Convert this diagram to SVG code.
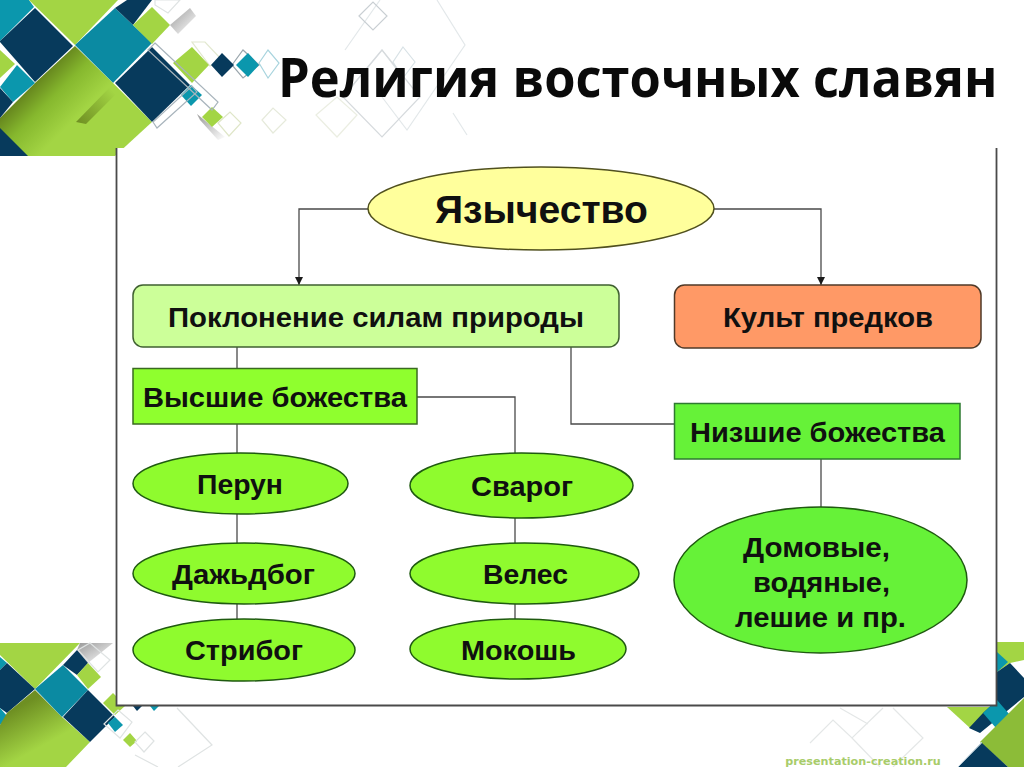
<svg xmlns="http://www.w3.org/2000/svg" width="1024" height="767" viewBox="0 0 1024 767">
<style>
.t{font-family:"Liberation Sans",Arial,sans-serif;font-weight:bold;fill:#101010;text-anchor:middle;font-size:27.500px}
.c{fill:none;stroke:#4a4a4a;stroke-width:1.300}
.o{fill:none;stroke-width:1.200}
.n{fill:#073a5c}.e{fill:#0b97ad}.l{fill:#a3d544}
.e1{fill:#8ffb2e;stroke:#1f5a10;stroke-width:1.500}
.e2{fill:#66f238;stroke:#1f5a10;stroke-width:1.500}
</style>
<defs>
<marker id="ah" markerWidth="9" markerHeight="9" refX="8" refY="4" orient="auto" markerUnits="userSpaceOnUse"><path d="M0 0L8 4L0 8Z" fill="#1a1a1a"/></marker>
<linearGradient id="sh" gradientUnits="userSpaceOnUse" x1="42" y1="72" x2="82" y2="112"><stop offset="0" stop-color="#62801c"/><stop offset=".45" stop-color="#86b82e"/><stop offset="1" stop-color="#a3d544"/></linearGradient>
<linearGradient id="sh2" gradientUnits="userSpaceOnUse" x1="40" y1="695" x2="62" y2="735"><stop offset="0" stop-color="#6e8f22"/><stop offset="1" stop-color="#a3d544"/></linearGradient>
<linearGradient id="fold" gradientUnits="userSpaceOnUse" x1="76" y1="122" x2="112" y2="90"><stop offset="0" stop-color="#6f8f22"/><stop offset="1" stop-color="#a3d544"/></linearGradient>
<linearGradient id="gs" x1="0" y1="0" x2="1" y2="1"><stop offset="0" stop-color="#9a9a9a"/><stop offset="1" stop-color="#fff"/></linearGradient>
</defs>
<rect width="1024" height="767" fill="#fff"/>
<g id="deco-top">
<g class="o" stroke="#e3e8ea">
<path d="M437 0L465 45L407 130L382 97M380 0L345 50M453 113L467 135M343 97L382 50L403 78"/>
<polygon points="403,47 415,62 403,78 393,62" stroke="#d8e2e6"/>
<polygon points="343,97 382,50 420,97 382,137" stroke="#d6dadd"/>
<polygon points="316,115 337,97 357,115 337,137" stroke="#ebeee2"/>
<polygon points="359,16 373,2 387,16 373,30" stroke="#c9cfd3"/>
<polygon points="262,120 273,108 286,120 273,133" stroke="#e6eadb"/>
<polygon points="218,123 230,112 241,123 229,136" stroke="#dfe6c8"/>
<polygon points="259,63 268,50 279,63 268,78" stroke="#a8d4de"/>
<polygon points="232,65 243,50 259,65 243,78" stroke="#9aa6ad"/>
<polygon points="155,0 180,0 168,13 155,5" stroke="#dfe3e3"/>
<polygon points="192,42 205,42 222,60 210,66" stroke="#e2e8cf"/>
</g>
<polygon fill="url(#gs)" points="190,8 170,25 178,34 196,16"/>
<polygon fill="url(#gs)" points="197,114 225,137 218,140 200,120"/>
<polygon class="e" points="0,0 29,0 34,7 0,41"/>
<polygon class="n" points="0,41 35,8 73,46 35,82 0,42"/>
<polygon class="l" points="29,0 118,0 75,45"/>
<polygon fill="#0b8aa2" points="75,45 115,8 152,43 113,83"/>
<polygon class="n" points="115,8 127,0 152,0 133,25"/>
<polygon class="l" points="133,25 152,7 170,25 152,44"/>
<polygon fill="url(#sh)" points="75,46 113,83 152,122 115,156 0,156 0,118 35,83"/>
<polygon fill="url(#fold)" points="113,84 76,122 86,124 116,94"/>
<polygon class="n" points="115,83 152,47 190,85 152,122"/>
<polygon class="n" points="0,128 28,156 0,156"/>
<polygon class="l" points="0,50 15,64 0,78"/>
<polygon class="e" points="0,87 17,65 35,83 13,102"/>
<polygon class="n" points="0,88 13,102 0,118"/>
<polygon class="l" points="173,63 192,47 209,65 192,83"/>
<polygon class="n" points="211,65 222,53 234,65 222,77"/>
<polygon class="e" points="236,65 248,53 259,65 248,77"/>
<polygon class="e" points="181,95 191,85 202,95 191,106"/>
<polygon class="l" points="202,117 212,107 223,117 212,127"/>
<g class="o" stroke="#a8b4bc">
<polygon points="155,43 218,102 212,110 148,50"/>
<polygon points="153,122 157,128 197,92 192,86"/>
</g>
</g>
<g id="deco-left">
<polygon fill="url(#gs)" points="80,643 113,643 88,663 77,650"/>
<polygon class="l" points="0,643 80,643 35,689 0,655"/>
<polygon class="e" points="0,657 7,663 0,670"/>
<polygon class="n" points="0,670 7,663 35,689 7,713 0,708"/>
<polygon class="e" points="0,708 8,717 0,725"/>
<polygon fill="url(#sh2)" points="35,690 62,717 90,742 66,767 0,767 0,725 7,713"/>
<polygon fill="#0b8aa2" points="35,689 63,665 88,690 62,717"/>
<polygon class="n" points="63,717 88,690 115,717 90,742"/>
<polygon class="n" points="63,665 77,650 88,663 77,675"/>
<polygon class="l" points="77,675 88,663 101,677 88,689"/>
<polygon class="l" points="103,703 113,693 116,696 125,706 115,715"/>
<polygon class="e" points="108,723 115,717 123,725 115,732"/>
<polygon class="l" points="123,740 130,733 137,741 130,747"/>
<polygon class="n" points="133,706 142,706 137,711"/>
<polygon class="e" points="150,706 159,706 154,711"/>
<g class="o" stroke="#dfe3e3">
<polygon points="90,643 110,660 98,672 78,650"/>
<polygon points="118,710 132,722 120,738 104,724"/>
<polygon points="145,732 154,741 144,752 135,742"/>
<path d="M177 708L212 745L178 767M135 755L158 767"/>
</g>
</g>
<g id="deco-right">
<polygon class="l" points="947,707 997,707 970,728"/>
<polygon class="l" points="997,642 1024,642 1024,660 1010,663 997,672"/>
<polygon class="e" points="997,652 1008,662 997,672"/>
<polygon class="n" points="997,672 1010,663 1024,678 1024,697 980,733 969,728 983,713 997,700"/>
<polygon class="e" points="983,713 997,700 1010,715 996,728"/>
<polygon fill="#8cbc38" points="980,742 1024,698 1024,767 1008,767"/>
<polygon class="n" points="982,743 1008,767 958,767"/>
<path d="M958 767L982 742" stroke="#b8ccd8" fill="none"/>
<g class="o" stroke="#e4e7e7">
<path d="M810 743L833 720L852 738L883 708M893 708L923 738L893 767M852 738L880 767M840 708L868 724"/>
</g>
</g>
<rect x="116" y="148" width="881" height="557" fill="#fff"/>
<path id="panel" d="M116.500 148V705.500H996.500V148" fill="none" stroke="#4a4a4a" stroke-width="1.800"/>
<text transform="translate(278 96.500) scale(.937 1)" font-size="54" font-weight="bold" fill="#0a0a0a" font-family="'Open Sans','Noto Sans',sans-serif">Религия восточных славян</text>
<text x="863" y="765" font-size="11.200" font-weight="bold" fill="#a8cc6a" text-anchor="middle" font-family="'DejaVu Sans',sans-serif">presentation-creation.ru</text>
<g id="connectors">
<path class="c" d="M369 209H299V285" marker-end="url(#ah)"/>
<path class="c" d="M712 209H821V285" marker-end="url(#ah)"/>
<path class="c" d="M237 347V368"/>
<path class="c" d="M571 347V424H674"/>
<path class="c" d="M417 397H515V453"/>
<path class="c" d="M237 424V453"/>
<path class="c" d="M237 514V543"/>
<path class="c" d="M237 604V619"/>
<path class="c" d="M515 518V543"/>
<path class="c" d="M515 604V619"/>
<path class="c" d="M821 459V507"/>
</g>
<g id="n-yazychestvo"><ellipse cx="541" cy="208.500" rx="173" ry="41.500" fill="#ffff9c" stroke="#50501e" stroke-width="1.500"/><text class="t" x="541.500" y="223" style="font-size:39px" textLength="213" lengthAdjust="spacingAndGlyphs">Язычество</text></g>
<g id="n-poklonenie"><rect x="133" y="285" width="486" height="62" rx="10" fill="#ccff99" stroke="#3f6030" stroke-width="1.500"/><text class="t" x="376" y="327" textLength="416" lengthAdjust="spacingAndGlyphs">Поклонение силам природы</text></g>
<g id="n-kult"><rect x="674.500" y="285" width="306.500" height="63" rx="10" fill="#ff9966" stroke="#503a28" stroke-width="1.500"/><text class="t" x="828" y="327" textLength="210" lengthAdjust="spacingAndGlyphs">Культ предков</text></g>
<g id="n-vysshie"><rect x="133" y="368.500" width="284" height="55.500" fill="#8fff2e" stroke="#3a6a20" stroke-width="1.500"/><text class="t" x="275" y="407" textLength="264" lengthAdjust="spacingAndGlyphs">Высшие божества</text></g>
<g id="n-nizshie"><rect x="674.500" y="403.500" width="285.500" height="55.500" fill="#66f238" stroke="#2e7a30" stroke-width="1.500"/><text class="t" x="817.500" y="442" textLength="255" lengthAdjust="spacingAndGlyphs">Низшие божества</text></g>
<g id="n-perun"><ellipse cx="240.500" cy="483.500" rx="107.500" ry="30.500" class="e1"/><text class="t" x="240" y="494" textLength="86" lengthAdjust="spacingAndGlyphs">Перун</text></g>
<g id="n-dazhdbog"><ellipse cx="244" cy="573.500" rx="111" ry="30.500" class="e1"/><text class="t" x="243.500" y="584" textLength="143" lengthAdjust="spacingAndGlyphs">Дажьдбог</text></g>
<g id="n-stribog"><ellipse cx="244" cy="650" rx="111" ry="31" class="e1"/><text class="t" x="244" y="660" textLength="118" lengthAdjust="spacingAndGlyphs">Стрибог</text></g>
<g id="n-svarog"><ellipse cx="521.500" cy="485.500" rx="111.500" ry="32.500" class="e1"/><text class="t" x="522" y="496" textLength="102" lengthAdjust="spacingAndGlyphs">Сварог</text></g>
<g id="n-veles"><ellipse cx="524.500" cy="573.500" rx="114.500" ry="30.500" class="e1"/><text class="t" x="525.500" y="584" textLength="85" lengthAdjust="spacingAndGlyphs">Велес</text></g>
<g id="n-mokosh"><ellipse cx="518" cy="649" rx="108" ry="30" class="e1"/><text class="t" x="518.500" y="660" textLength="115" lengthAdjust="spacingAndGlyphs">Мокошь</text></g>
<g id="n-domovye"><ellipse cx="820.500" cy="580" rx="146.500" ry="73" class="e2"/><text class="t" x="816.500" y="557" textLength="147" lengthAdjust="spacingAndGlyphs">Домовые,</text><text class="t" x="821.500" y="592" textLength="137" lengthAdjust="spacingAndGlyphs">водяные,</text><text class="t" x="820.500" y="627" textLength="171" lengthAdjust="spacingAndGlyphs">лешие и пр.</text></g>
</svg>
